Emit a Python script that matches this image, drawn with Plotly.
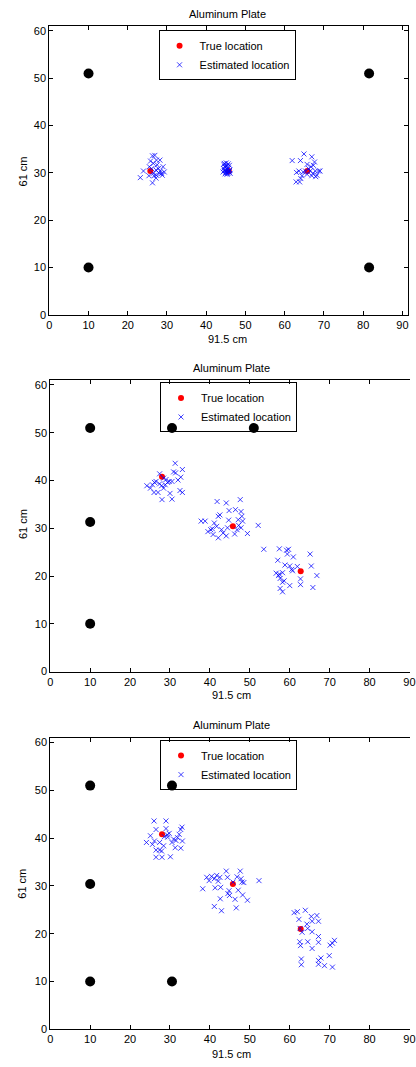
import plotly.graph_objects as go

# ---------------- data ----------------
x_ticks = [0, 10, 20, 30, 40, 50, 60, 70, 80, 90]
y_ticks = [0, 10, 20, 30, 40, 50, 60]

# Panel 1
p1_sensor_x = [10, 10, 81.5, 81.5]
p1_sensor_y = [10, 51, 10, 51]
p1_true_x = [25.75, 45.75, 65.75]
p1_true_y = [30.4, 30.4, 30.4]
p1_est_x = [23.2, 24.0, 26.3, 26.3, 26.9, 25.8, 26.5, 27.3, 28.2, 28.0, 27.3, 26.7, 29.0, 29.3, 28.6, 26.1, 25.5, 25.4, 27.2, 27.8, 28.3, 27.2, 26.5, 28.8, 27.5,
            44.3, 44.5, 44.6, 44.8, 44.9, 45.0, 45.1, 45.2, 45.3, 45.4, 45.5, 45.6, 45.8, 45.9, 46.0, 46.1, 44.4, 44.7, 45.0, 45.3, 45.6, 45.9, 44.6, 45.2, 45.7,
            61.9, 64.0, 64.9, 66.9, 67.6, 65.7, 63.0, 62.9, 63.8, 64.1, 64.7, 65.7, 66.5, 67.2, 67.8, 67.9, 68.6, 69.0, 66.1, 65.3, 66.7, 67.3, 68.2, 63.6, 64.4, 66.9]
p1_est_y = [29.0, 30.4, 27.9, 33.6, 33.7, 32.5, 32.0, 32.7, 32.7, 29.9, 29.5, 29.4, 31.3, 30.2, 29.9, 30.9, 31.3, 29.4, 30.6, 30.9, 30.4, 28.9, 29.9, 29.5, 31.7,
            30.2, 31.8, 30.5, 29.8, 31.2, 30.4, 32.1, 30.0, 31.5, 30.8, 29.9, 31.0, 30.3, 31.6, 30.6, 29.9, 30.9, 31.4, 30.1, 29.7, 31.9, 30.5, 32.0, 30.6, 30.2,
            32.6, 32.6, 34.0, 33.4, 32.3, 31.8, 30.1, 28.1, 28.1, 28.8, 30.2, 29.7, 30.4, 29.9, 30.4, 29.2, 30.4, 30.4, 30.9, 30.4, 31.3, 31.6, 29.5, 30.4, 29.4, 29.4]

# Panel 2
p2_sensor_x = [10, 30.5, 51, 10, 10]
p2_sensor_y = [51, 51, 51, 31.3, 10]
p2_true_x = [28.0, 45.75, 62.75]
p2_true_y = [40.8, 30.4, 21.0]
p2_est_x = [24.2, 25.1, 25.6, 26.1, 26.5, 26.0, 27.0, 27.4, 27.9, 28.4, 28.0, 29.0, 29.4, 29.8, 30.0, 30.5, 30.5, 30.9, 31.3, 31.4, 32.0, 32.7, 33.1, 32.5, 33.1, 28.4, 27.4, 28.8,
            37.8, 38.8, 39.5, 40.2, 40.6, 40.8, 41.1, 41.7, 42.1, 41.8, 42.1, 42.5, 42.9, 44.1, 44.1, 44.4, 44.8, 44.7, 46.2, 46.4, 46.8, 47.1, 47.6, 47.8, 48.0, 47.8, 48.2, 49.4, 52.1, 47.2, 43.3,
            53.5, 57.0, 57.4, 56.6, 57.2, 57.6, 58.2, 57.6, 58.2, 58.6, 58.2, 58.8, 59.2, 59.4, 59.7, 60.0, 60.0, 60.9, 60.5, 60.7, 61.9, 62.7, 62.7, 65.1, 65.4, 65.8, 66.8, 57.4]
p2_est_y = [38.9, 38.4, 39.1, 39.6, 39.8, 37.5, 37.5, 41.4, 38.9, 38.4, 36.0, 40.2, 39.6, 39.8, 37.3, 36.1, 39.8, 41.8, 43.6, 41.6, 40.1, 40.7, 42.3, 37.9, 37.5, 40.5, 39.3, 39.1,
            31.5, 31.5, 29.3, 29.7, 29.9, 28.7, 31.1, 30.4, 28.0, 35.6, 32.5, 32.8, 29.7, 35.3, 28.4, 30.1, 33.7, 31.7, 28.8, 33.9, 29.7, 31.8, 36.0, 33.5, 32.5, 30.1, 31.5, 28.9, 30.6, 30.6, 29.0,
            25.6, 23.3, 25.7, 20.6, 20.1, 19.5, 18.7, 17.4, 16.7, 19.0, 20.7, 22.3, 25.4, 24.6, 25.6, 22.1, 18.0, 24.0, 21.4, 21.1, 22.0, 19.4, 18.2, 24.6, 22.1, 17.6, 20.1, 20.4]

# Panel 3
p3_sensor_x = [10, 30.5, 10, 10, 30.5]
p3_sensor_y = [51, 51, 30.4, 10, 10]
p3_true_x = [28.0, 45.75, 62.75]
p3_true_y = [40.8, 30.4, 21.0]
p3_est_x = [24.1, 25.1, 26.0, 26.5, 26.1, 25.6, 26.5, 26.5, 27.4, 28.0, 27.9, 28.4, 29.0, 29.0, 29.3, 29.4, 30.1, 30.5, 30.9, 31.3, 31.9, 32.3, 32.7, 33.0, 32.7, 33.1, 27.4, 28.6, 31.5, 29.8,
            38.2, 39.2, 39.8, 40.4, 41.1, 41.7, 41.3, 41.1, 42.1, 42.5, 42.6, 42.9, 42.7, 44.1, 44.4, 44.5, 44.9, 44.8, 46.3, 46.6, 46.8, 47.1, 47.6, 47.8, 48.0, 48.2, 48.5, 49.4, 52.3, 45.8,
            61.1, 61.9, 62.3, 62.6, 62.5, 62.7, 62.9, 62.9, 63.1, 63.9, 64.3, 64.5, 64.5, 65.4, 65.6, 65.6, 65.6, 66.8, 67.2, 67.2, 67.2, 67.2, 67.2, 67.8, 68.7, 69.9, 70.1, 70.7, 70.7, 71.2]
p3_est_y = [39.1, 40.5, 43.6, 41.8, 39.4, 38.7, 37.5, 36.0, 37.5, 36.0, 37.3, 38.4, 43.6, 42.0, 40.7, 40.2, 36.1, 39.1, 39.8, 38.0, 40.1, 40.8, 41.8, 42.3, 37.9, 39.4, 39.1, 40.3, 39.5, 41.0,
            29.4, 31.8, 31.1, 32.0, 31.5, 32.2, 29.6, 25.7, 31.0, 31.8, 27.3, 24.8, 29.7, 33.1, 31.8, 28.4, 28.0, 29.0, 27.2, 25.4, 31.9, 29.1, 33.1, 31.5, 30.8, 28.1, 30.7, 27.0, 31.1, 30.8,
            24.4, 24.6, 23.0, 21.1, 18.3, 17.5, 14.7, 13.5, 20.3, 24.9, 22.0, 21.1, 18.3, 23.6, 22.6, 20.4, 16.9, 23.8, 22.6, 19.4, 18.2, 14.4, 13.6, 14.9, 13.3, 15.4, 17.6, 18.0, 13.0, 18.6]

title_text = "Aluminum Plate"
x_label = "91.5 cm"
y_label = "61 cm"
legend_names = ["True location", "Estimated location"]

# ---------------- figure ----------------
W, H = 416, 1067
FONT = "Liberation Sans, Arial, sans-serif"

panels = [
    dict(sx=p1_sensor_x, sy=p1_sensor_y, tx=p1_true_x, ty=p1_true_y, ex=p1_est_x, ey=p1_est_y,
         xdom=[47.3 / W, 414.3 / W], ytop=25.3, ybot=316.0, xmax=91.5, full=True,
         leg_left=159.0, leg_top=29.5, title_cx=229.0, title_cy=12.7, xl_cx=229.0, xl_cy=340.0, yl_cy=172.0),
    dict(sx=p2_sensor_x, sy=p2_sensor_y, tx=p2_true_x, ty=p2_true_y, ex=p2_est_x, ey=p2_est_y,
         xdom=[48.3 / W, 1.0], ytop=381.7, ybot=675.0, xmax=90.13, full=False,
         leg_left=160.5, leg_top=384.0, title_cx=233.3, title_cy=369.0, xl_cx=233.3, xl_cy=699.0, yl_cy=527.0),
    dict(sx=p3_sensor_x, sy=p3_sensor_y, tx=p3_true_x, ty=p3_true_y, ex=p3_est_x, ey=p3_est_y,
         xdom=[48.3 / W, 1.0], ytop=741.7, ybot=1035.0, xmax=90.13, full=False,
         leg_left=160.5, leg_top=744.0, title_cx=233.3, title_cy=729.0, xl_cx=233.3, xl_cy=1060.0, yl_cy=889.0),
]

fig = go.Figure()
layout = dict(
    width=W, height=H, autosize=False,
    margin=dict(l=0, r=0, t=0, b=0, pad=0),
    paper_bgcolor="white", plot_bgcolor="white",
    font=dict(family=FONT, size=11, color="black"),
    showlegend=True,
)
annotations = []

for i, p in enumerate(panels, start=1):
    xa = "x" if i == 1 else f"x{i}"
    ya = "y" if i == 1 else f"y{i}"
    leg = "legend" if i == 1 else f"legend{i}"

    fig.add_trace(go.Scatter(x=p["sx"], y=p["sy"], mode="markers", xaxis=xa, yaxis=ya,
                             marker=dict(symbol="circle", size=10, color="black"),
                             showlegend=False, hoverinfo="skip"))
    fig.add_trace(go.Scatter(x=p["tx"], y=p["ty"], mode="markers", xaxis=xa, yaxis=ya,
                             name=legend_names[0], legend=leg,
                             marker=dict(symbol="circle", size=6, color="red")))
    fig.add_trace(go.Scatter(x=p["ex"], y=p["ey"], mode="markers", xaxis=xa, yaxis=ya,
                             name=legend_names[1], legend=leg,
                             marker=dict(symbol="x-thin", size=5,
                                         line=dict(width=1, color="rgba(0,0,255,0.75)"))))

    ydom = [(H - p["ybot"]) / H, (H - p["ytop"]) / H]
    xkey = "xaxis" if i == 1 else f"xaxis{i}"
    ykey = "yaxis" if i == 1 else f"yaxis{i}"
    layout[xkey] = dict(domain=p["xdom"], anchor=ya, range=[0, p["xmax"]],
                        tickvals=x_ticks, ticks="inside", ticklen=4, tickcolor="black",
                        showline=True, linecolor="black", linewidth=1, mirror="ticks",
                        showgrid=False, zeroline=False, ticklabeloverflow="allow",
                        tickfont=dict(family=FONT, size=11, color="black"))
    layout[ykey] = dict(domain=ydom, anchor=xa, range=[0, 61],
                        tickvals=y_ticks, ticks="inside", ticklen=4, tickcolor="black",
                        showline=True, linecolor="black", linewidth=1,
                        mirror="ticks" if p["full"] else False,
                        showgrid=False, zeroline=False, ticklabeloverflow="allow",
                        tickfont=dict(family=FONT, size=11, color="black"))
    layout[leg] = dict(x=p["leg_left"] / W, y=(H - p["leg_top"]) / H, xanchor="left", yanchor="top",
                       bordercolor="black", borderwidth=1, bgcolor="rgba(255,255,255,0)",
                       font=dict(family=FONT, size=11, color="black"),
                       tracegroupgap=0)

    annotations.append(dict(text=title_text, x=p["title_cx"] / W, y=(H - p["title_cy"]) / H,
                            xref="paper", yref="paper", showarrow=False,
                            xanchor="center", yanchor="middle",
                            font=dict(family=FONT, size=11, color="black")))
    annotations.append(dict(text=x_label, x=p["xl_cx"] / W, y=(H - p["xl_cy"]) / H,
                            xref="paper", yref="paper", showarrow=False,
                            xanchor="center", yanchor="middle",
                            font=dict(family=FONT, size=11, color="black")))
    annotations.append(dict(text=y_label, x=20.0 / W, y=(H - p["yl_cy"]) / H,
                            xref="paper", yref="paper", showarrow=False, textangle=-90,
                            xanchor="center", yanchor="middle",
                            font=dict(family=FONT, size=11, color="black")))

layout["annotations"] = annotations
fig.update_layout(**layout)
fig.write_html("out.html",
               config={"displayModeBar": False},
               post_script="document.body.style.margin='0';document.body.style.padding='0';document.body.style.overflow='hidden';")
